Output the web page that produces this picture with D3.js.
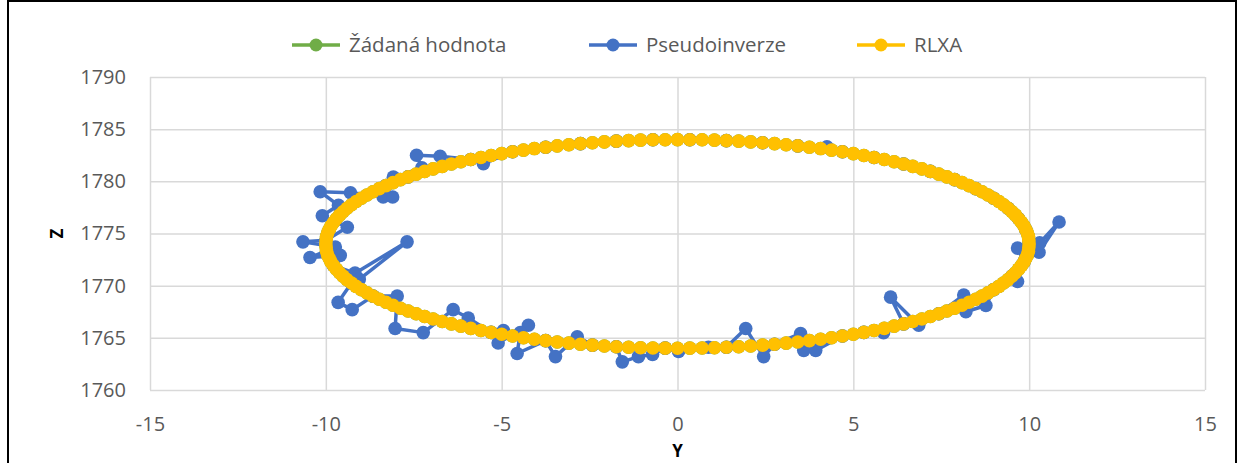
<!DOCTYPE html>
<html>
<head>
<meta charset="utf-8">
<script src="https://cdn.jsdelivr.net/npm/d3@7"></script>
<style>
  body { margin: 0; background: #fff; }
  svg { display: block; }
  text { font-family: 'Open Sans', sans-serif; }
</style>
</head>
<body>
<div id="chart"></div>
<script>
// desired trajectory (Žádaná hodnota), RLXA follows it point for point
const targetY = [
  10.00, 9.99, 9.98, 9.95, 9.90, 9.85, 9.78, 9.70, 9.61, 9.51, 9.40, 9.27, 9.14, 8.99, 8.83,
  8.66, 8.48, 8.29, 8.09, 7.88, 7.66, 7.43, 7.19, 6.95, 6.69, 6.43, 6.16, 5.88, 5.59, 5.30,
  5.00, 4.69, 4.38, 4.07, 3.75, 3.42, 3.09, 2.76, 2.42, 2.08, 1.74, 1.39, 1.05, 0.70, 0.35,
  0.00, -0.35, -0.70, -1.05, -1.39, -1.74, -2.08, -2.42, -2.76, -3.09, -3.42, -3.75, -4.07, -4.38, -4.69,
  -5.00, -5.30, -5.59, -5.88, -6.16, -6.43, -6.69, -6.95, -7.19, -7.43, -7.66, -7.88, -8.09, -8.29, -8.48,
  -8.66, -8.83, -8.99, -9.14, -9.27, -9.40, -9.51, -9.61, -9.70, -9.78, -9.85, -9.90, -9.95, -9.98, -9.99,
  -10.00, -9.99, -9.98, -9.95, -9.90, -9.85, -9.78, -9.70, -9.61, -9.51, -9.40, -9.27, -9.14, -8.99, -8.83,
  -8.66, -8.48, -8.29, -8.09, -7.88, -7.66, -7.43, -7.19, -6.95, -6.69, -6.43, -6.16, -5.88, -5.59, -5.30,
  -5.00, -4.69, -4.38, -4.07, -3.75, -3.42, -3.09, -2.76, -2.42, -2.08, -1.74, -1.39, -1.05, -0.70, -0.35,
  0.00, 0.35, 0.70, 1.05, 1.39, 1.74, 2.08, 2.42, 2.76, 3.09, 3.42, 3.75, 4.07, 4.38, 4.69,
  5.00, 5.30, 5.59, 5.88, 6.16, 6.43, 6.69, 6.95, 7.19, 7.43, 7.66, 7.88, 8.09, 8.29, 8.48,
  8.66, 8.83, 8.99, 9.14, 9.27, 9.40, 9.51, 9.61, 9.70, 9.78, 9.85, 9.90, 9.95, 9.98, 9.99
];
const targetZ = [
  1774.00, 1774.35, 1774.70, 1775.05, 1775.39, 1775.74, 1776.08, 1776.42, 1776.76, 1777.09, 1777.42, 1777.75, 1778.07, 1778.38, 1778.69,
  1779.00, 1779.30, 1779.59, 1779.88, 1780.16, 1780.43, 1780.69, 1780.95, 1781.19, 1781.43, 1781.66, 1781.88, 1782.09, 1782.29, 1782.48,
  1782.66, 1782.83, 1782.99, 1783.14, 1783.27, 1783.40, 1783.51, 1783.61, 1783.70, 1783.78, 1783.85, 1783.90, 1783.95, 1783.98, 1783.99,
  1784.00, 1783.99, 1783.98, 1783.95, 1783.90, 1783.85, 1783.78, 1783.70, 1783.61, 1783.51, 1783.40, 1783.27, 1783.14, 1782.99, 1782.83,
  1782.66, 1782.48, 1782.29, 1782.09, 1781.88, 1781.66, 1781.43, 1781.19, 1780.95, 1780.69, 1780.43, 1780.16, 1779.88, 1779.59, 1779.30,
  1779.00, 1778.69, 1778.38, 1778.07, 1777.75, 1777.42, 1777.09, 1776.76, 1776.42, 1776.08, 1775.74, 1775.39, 1775.05, 1774.70, 1774.35,
  1774.00, 1773.65, 1773.30, 1772.95, 1772.61, 1772.26, 1771.92, 1771.58, 1771.24, 1770.91, 1770.58, 1770.25, 1769.93, 1769.62, 1769.31,
  1769.00, 1768.70, 1768.41, 1768.12, 1767.84, 1767.57, 1767.31, 1767.05, 1766.81, 1766.57, 1766.34, 1766.12, 1765.91, 1765.71, 1765.52,
  1765.34, 1765.17, 1765.01, 1764.86, 1764.73, 1764.60, 1764.49, 1764.39, 1764.30, 1764.22, 1764.15, 1764.10, 1764.05, 1764.02, 1764.01,
  1764.00, 1764.01, 1764.02, 1764.05, 1764.10, 1764.15, 1764.22, 1764.30, 1764.39, 1764.49, 1764.60, 1764.73, 1764.86, 1765.01, 1765.17,
  1765.34, 1765.52, 1765.71, 1765.91, 1766.12, 1766.34, 1766.57, 1766.81, 1767.05, 1767.31, 1767.57, 1767.84, 1768.12, 1768.41, 1768.70,
  1769.00, 1769.31, 1769.62, 1769.93, 1770.25, 1770.58, 1770.91, 1771.24, 1771.58, 1771.92, 1772.26, 1772.61, 1772.95, 1773.30, 1773.65
];

// pseudoinverse result
const blueY = [
  9.99, 9.90, 9.70, 9.40, 8.99, 8.48, 7.88, 7.19, 6.43, 5.59,
  4.69, 4.25, 3.42, 2.42, 1.39, 0.35, -0.70, -1.74, -2.76, -3.75,
  -4.69, -5.52, -5.88, -6.75, -7.42, -7.27, -7.66, -8.08, -8.29, -8.37,
  -8.10, -9.30, -10.16, -9.64, -10.10, -9.39, -9.99, -10.65, -9.73, -10.45,
  -9.59, -9.78, -9.17, -7.69, -9.05, -9.27, -9.65, -9.25, -8.66, -7.97,
  -8.03, -7.23, -6.38, -5.95, -5.30, -4.95, -5.10, -4.24, -4.47, -4.56,
  -3.75, -3.47, -2.85, -2.42, -1.74, -1.57, -1.11, -0.71, -0.35, 0.03,
  0.88, 1.39, 1.94, 2.45, 2.76, 3.50, 3.59, 3.93, 4.69, 5.30,
  5.86, 6.43, 6.06, 6.86, 7.43, 8.14, 8.20, 8.77, 8.99, 9.51,
  9.67, 9.85, 9.67, 10.28, 10.85, 10.30
];
const blueZ = [
  1774.35, 1775.39, 1776.42, 1777.42, 1778.38, 1779.30, 1780.16, 1780.95, 1781.66, 1782.29,
  1782.83, 1783.3, 1783.40, 1783.70, 1783.90, 1783.99, 1783.98, 1783.85, 1783.61, 1783.27,
  1782.83, 1781.7, 1782.09, 1782.4, 1782.5, 1781.3, 1780.43, 1780.4, 1779.59, 1778.5,
  1778.5, 1778.9, 1779.0, 1777.7, 1776.7, 1775.6, 1774.35, 1774.2, 1773.7, 1772.7,
  1772.9, 1771.92, 1771.2, 1774.2, 1770.6, 1770.25, 1768.4, 1767.7, 1769.0, 1769.0,
  1765.9, 1765.5, 1767.7, 1766.9, 1765.52, 1765.7, 1764.5, 1766.2, 1765.5, 1763.5,
  1764.73, 1763.2, 1765.1, 1764.30, 1764.15, 1762.7, 1763.2, 1763.4, 1764.01, 1763.7,
  1764.1, 1764.10, 1765.9, 1763.2, 1764.39, 1765.4, 1763.8, 1763.8, 1765.17, 1765.52,
  1765.5, 1766.34, 1768.9, 1766.2, 1767.31, 1769.1, 1767.5, 1768.1, 1769.62, 1770.91,
  1770.4, 1772.26, 1773.6, 1773.2, 1776.1, 1774.1
];

const xTicks = [-15, -10, -5, 0, 5, 10, 15];
const zTicks = [1760, 1765, 1770, 1775, 1780, 1785, 1790];

const series = [
  { name: 'Žádaná hodnota', color: '#70AD47', ys: targetY, zs: targetZ, legendX: 292 },
  { name: 'Pseudoinverze', color: '#4472C4', ys: blueY, zs: blueZ, legendX: 589 },
  { name: 'RLXA', color: '#FFC000', ys: targetY, zs: targetZ, legendX: 857 }
];

const W = 1241, H = 463;
const MARGINS = { top: 77, right: 36, bottom: 73, left: 150 };

const svg = d3.select('#chart').append('svg').attr('width', W).attr('height', H);

// outer frame
svg.append('rect')
  .attr('x', 8).attr('y', 1).attr('width', 1228).attr('height', 475)
  .attr('fill', 'none').attr('stroke', '#000').attr('stroke-width', 2);

const x = d3.scaleLinear().domain([-15, 15]).range([MARGINS.left, W - MARGINS.right]);
const z = d3.scaleLinear().domain([1760, 1790]).range([H - MARGINS.bottom, MARGINS.top]);

// axes + gridlines
const xAxisEl = svg.append('g')
  .attr('transform', `translate(0, ${H - MARGINS.bottom})`)
  .call(d3.axisBottom(x).tickValues(xTicks).tickFormat((d) => String(d))
    .tickSize(-(H - MARGINS.bottom - MARGINS.top)).tickPadding(27));
const zAxisEl = svg.append('g')
  .attr('transform', `translate(${MARGINS.left}, 0)`)
  .call(d3.axisLeft(z).tickValues(zTicks).tickFormat((d) => String(d))
    .tickSize(-(W - MARGINS.right - MARGINS.left)).tickPadding(24));

[xAxisEl, zAxisEl].forEach((el) => {
  el.select('.domain').remove();
  el.selectAll('line').attr('stroke', '#D9D9D9').attr('stroke-width', 1.5);
  el.selectAll('text').attr('fill', '#595959').style('font-size', '20px');
});

// axis titles
svg.append('text')
  .attr('transform', `translate(63, ${z(1775)}) rotate(-90)`)
  .attr('text-anchor', 'middle')
  .style('font-size', '17px').style('font-weight', 'bold')
  .attr('fill', '#000')
  .text('Z');
svg.append('text')
  .attr('x', x(0)).attr('y', 457)
  .attr('text-anchor', 'middle')
  .style('font-size', '17px').style('font-weight', 'bold')
  .attr('fill', '#000')
  .text('Y');

// series: line first, then markers
const line = d3.line().x((d) => x(d[0])).y((d) => z(d[1]));
series.forEach((s) => {
  const pts = s.ys.map((v, i) => [v, s.zs[i]]);
  const g = svg.append('g');
  g.append('path')
    .datum(pts)
    .attr('d', line)
    .attr('fill', 'none')
    .attr('stroke', s.color)
    .attr('stroke-width', 3.5)
    .attr('stroke-linejoin', 'round');
  g.selectAll('circle')
    .data(pts)
    .join('circle')
    .attr('cx', (d) => x(d[0]))
    .attr('cy', (d) => z(d[1]))
    .attr('r', 6.8)
    .attr('fill', s.color);
});

// legend
const legendY = 45;
series.forEach((s) => {
  const lg = svg.append('g').attr('transform', `translate(${s.legendX}, ${legendY})`);
  lg.append('line').attr('x1', 0).attr('x2', 48).attr('y1', 0).attr('y2', 0)
    .attr('stroke', s.color).attr('stroke-width', 3.5);
  lg.append('circle').attr('cx', 24).attr('cy', 0).attr('r', 6.5).attr('fill', s.color);
  lg.append('text').attr('x', 57).attr('y', 0).attr('dy', '0.35em')
    .attr('fill', '#595959').style('font-size', '20.5px')
    .text(s.name);
});
</script>
</body>
</html>
